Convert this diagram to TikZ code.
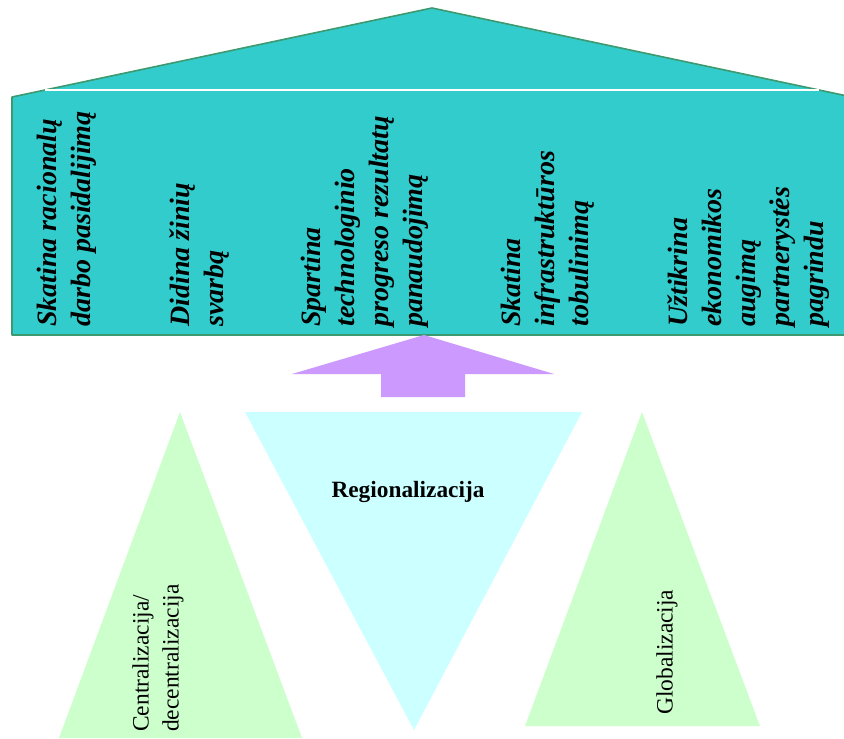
\documentclass[tikz,border=0pt]{standalone}
\usepackage{fontspec}
\setmainfont{Liberation Serif}
\usetikzlibrary{calc, positioning}
\definecolor{housefill}{HTML}{33CCCC}
\definecolor{houseline}{HTML}{3D9970}
\definecolor{arrowfill}{HTML}{CC99FF}
\definecolor{regfill}{HTML}{CCFFFF}
\definecolor{sidefill}{HTML}{CCFFCC}
\tikzset{
x=0.75pt, y=-0.75pt, % one unit is one pixel, y runs downward
house/.style={fill=housefill, draw=houseline, line width=1.2pt, line join=round}, % the house with its roof
eave/.style={draw=white, line width=1.2pt}, % white line under the roof
uparrow/.style={fill=arrowfill}, % wide arrow into the house
regtri/.style={fill=regfill}, % middle triangle
sidetri/.style={fill=sidefill}, % the two side triangles
every node/.style={inner sep=0pt},
wall text/.style={rotate=90, anchor=west, align=left, font=\fontsize{21}{25.5}\selectfont\bfseries\itshape},
side text/.style={rotate=90, anchor=west, align=left, font=\fontsize{17.6}{22.5}\selectfont},
}
\begin{document}
\begin{tikzpicture}
  \useasboundingbox[fill=white] (0,0) rectangle (844,739);
  % house
  \coordinate (apex) at (432,8);
  \coordinate (eaveL) at (12,97);
  \coordinate (eaveR) at (852,97);
  \draw[house] (eaveL) -- (apex) -- (eaveR) -- (852,335) -- (12,335) -- cycle;
  \draw[eave] ($(eaveL)!0.079!(apex)$) -- ($(eaveR)!0.079!(apex)$);

  \node[wall text] (w1) at (67,327) {Skatina racionalų\\darbo pasidalijimą};
  \node[wall text] (w2) at (200,327) {Didina žinių\\svarbą};
  \node[wall text] (w3) at (365,327) {Spartina\\technologinio\\progreso rezultatų\\panaudojimą};
  \node[wall text] (w4) at (548,327) {Skatina\\infrastruktūros\\tobulinimą};
  \node[wall text] (w5) at (749,327) {Užtikrina\\ekonomikos\\augimą\\partnerystės\\pagrindu};

  % arrow
  \fill[uparrow] (424,335) -- (554,374) -- (465,374) -- (465,397) -- (381,397) -- (381,374) -- (292,374) -- cycle;

  % triangles
  \fill[sidetri] (180,412) -- (302,738) -- (59,738) -- cycle;
  \fill[regtri] (245,412) -- (582,412) -- (414,730) -- cycle;
  \fill[sidetri] (642,412) -- (760,726) -- (525,726) -- cycle;

  \node[font=\fontsize{17.5}{21}\selectfont\bfseries] (reg) at (408,492) {Regionalizacija};
  \node[side text] (cen) at (158,732) {Centralizacija/\\decentralizacija};
  \node[side text] (glob) at (667,715) {Globalizacija};
\end{tikzpicture}
\end{document}
